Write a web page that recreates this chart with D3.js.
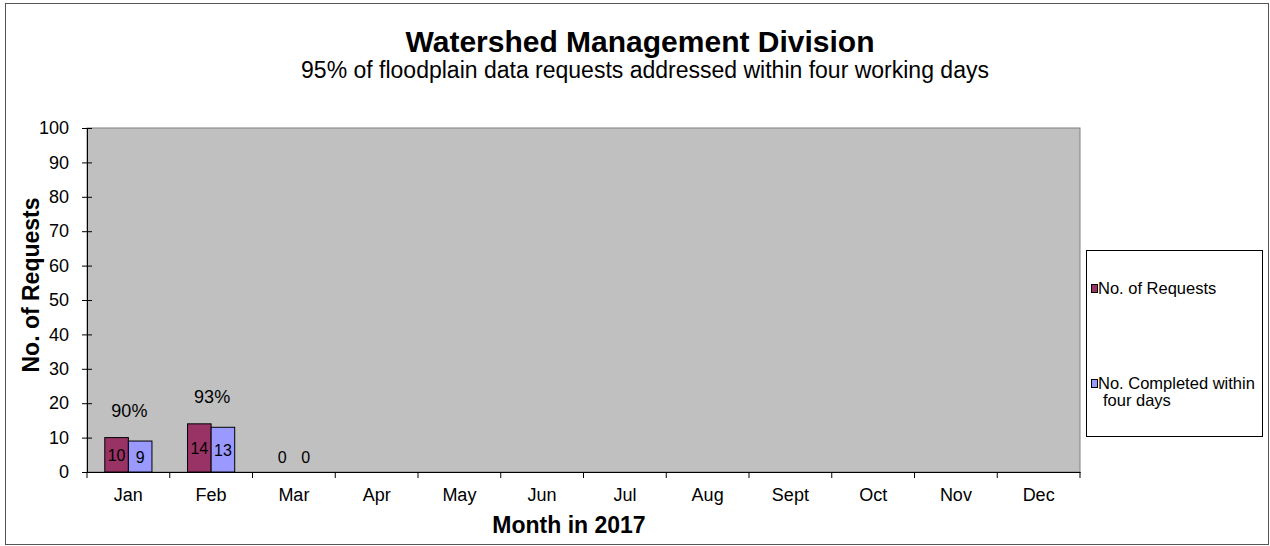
<!DOCTYPE html>
<html>
<head>
<meta charset="utf-8">
<script src="https://cdn.jsdelivr.net/npm/d3@7"></script>
<style>
  body { margin: 0; background: #fff; }
  text { font-family: "Liberation Sans", Arial, sans-serif; }
</style>
</head>
<body>
<script>
var w = 1270;
var h = 546;

var months = ["Jan", "Feb", "Mar", "Apr", "May", "Jun", "Jul", "Aug", "Sept", "Oct", "Nov", "Dec"];
var requests = [10, 14, 0, null, null, null, null, null, null, null, null, null];
var completed = [9, 13, 0, null, null, null, null, null, null, null, null, null];
var percentLabels = ["90%", "93%", null, null, null, null, null, null, null, null, null, null];
var yTicks = [0, 10, 20, 30, 40, 50, 60, 70, 80, 90, 100];
var seriesNames = ["No. of Requests", "No. Completed within four days"];
var seriesColors = ["#993366", "#9999FF"];

var plot = {left: 87, top: 128, right: 1080, bottom: 472};

var svg = d3.select("body")
    .append("svg")
    .attr("width", w)
    .attr("height", h);

// outer frame
svg.append("rect")
    .attr("x", 5.5)
    .attr("y", 3.5)
    .attr("width", 1263)
    .attr("height", 541)
    .attr("fill", "#fff")
    .attr("stroke", "#555")
    .attr("stroke-width", 1);

// titles
svg.append("text")
    .text("Watershed Management Division")
    .attr("x", 640)
    .attr("y", 52)
    .attr("text-anchor", "middle")
    .attr("font-size", 30)
    .attr("font-weight", "bold")
    .attr("fill", "#000");

svg.append("text")
    .text("95% of floodplain data requests addressed within four working days")
    .attr("x", 645)
    .attr("y", 78)
    .attr("text-anchor", "middle")
    .attr("font-size", 23)
    .attr("fill", "#000");

var x = d3.scaleBand()
    .domain(months)
    .range([plot.left, plot.right]);

var y = d3.scaleLinear()
    .domain([0, 100])
    .range([plot.bottom, plot.top]);

// plot background
svg.append("rect")
    .attr("x", plot.left)
    .attr("y", plot.top)
    .attr("width", plot.right - plot.left)
    .attr("height", plot.bottom - plot.top)
    .attr("fill", "#C0C0C0")
    .attr("stroke", "#808080")
    .attr("stroke-width", 1);

// bars
var barW = x.bandwidth() * 0.285;
var series = [requests, completed];
series.forEach(function (vals, s) {
    var g = svg.append("g");
    var data = months.map(function (m, i) { return {m: m, v: vals[i]}; })
        .filter(function (d) { return d.v !== null; });
    g.selectAll("rect")
        .data(data.filter(function (d) { return d.v > 0; }))
        .enter().append("rect")
        .attr("x", function (d) { return x(d.m) + x.bandwidth() / 2 + (s - 1) * barW; })
        .attr("y", function (d) { return y(d.v); })
        .attr("width", barW)
        .attr("height", function (d) { return y(0) - y(d.v); })
        .attr("fill", seriesColors[s])
        .attr("stroke", "#000")
        .attr("stroke-width", 1);
    g.selectAll("text")
        .data(data)
        .enter().append("text")
        .text(function (d) { return d.v; })
        .attr("x", function (d) { return x(d.m) + x.bandwidth() / 2 + (s - 0.5) * barW; })
        .attr("y", function (d) { return Math.min((y(d.v) + y(0)) / 2, y(0) - 15) + 6; })
        .attr("text-anchor", "middle")
        .attr("font-size", 16)
        .attr("fill", "#000");
});

// percent labels
svg.append("g").selectAll("text")
    .data(months.map(function (m, i) { return {m: m, t: percentLabels[i], v: requests[i]}; })
        .filter(function (d) { return d.t; }))
    .enter().append("text")
    .text(function (d) { return d.t; })
    .attr("x", function (d) { return x(d.m) + x.bandwidth() / 2 + 1; })
    .attr("y", function (d) { return y(d.v) - 21; })
    .attr("text-anchor", "middle")
    .attr("font-size", 18)
    .attr("fill", "#000");

// axes
var yAxis = svg.append("g")
    .attr("transform", "translate(" + plot.left + ",0)")
    .call(d3.axisLeft(y).tickValues(yTicks).tickSize(5).tickSizeOuter(0));
yAxis.selectAll("line").attr("x2", -5).attr("x1", 5).attr("stroke", "#000");
yAxis.select(".domain").attr("stroke", "#000");
yAxis.selectAll("text").attr("font-size", 18).attr("font-family", "Liberation Sans, Arial, sans-serif").attr("fill", "#000").attr("x", -18);

var xAxis = svg.append("g")
    .attr("transform", "translate(0," + plot.bottom + ")")
    .call(d3.axisBottom(x).tickSize(0).tickSizeOuter(0));
xAxis.select(".domain").attr("stroke", "#000");
xAxis.selectAll("text").attr("font-size", 18).attr("font-family", "Liberation Sans, Arial, sans-serif").attr("fill", "#000").attr("y", 0).attr("dy", 29);
// category boundary ticks
svg.append("g").selectAll("line")
    .data(months.concat(["end"]))
    .enter().append("line")
    .attr("x1", function (d, i) { return plot.left + i * x.bandwidth(); })
    .attr("x2", function (d, i) { return plot.left + i * x.bandwidth(); })
    .attr("y1", plot.bottom)
    .attr("y2", plot.bottom + 6)
    .attr("stroke", "#000");

// axis titles
svg.append("text")
    .text("No. of Requests")
    .attr("transform", "translate(39,285) rotate(-90)")
    .attr("text-anchor", "middle")
    .attr("font-size", 23)
    .attr("font-weight", "bold")
    .attr("fill", "#000");

svg.append("text")
    .text("Month in 2017")
    .attr("x", 569)
    .attr("y", 533)
    .attr("text-anchor", "middle")
    .attr("font-size", 23)
    .attr("font-weight", "bold")
    .attr("fill", "#000");

// legend
svg.append("rect")
    .attr("x", 1086.5)
    .attr("y", 250.5)
    .attr("width", 176)
    .attr("height", 186)
    .attr("fill", "#fff")
    .attr("stroke", "#000");

var legendY = [288, 383];
var legend = svg.append("g");
seriesNames.forEach(function (name, i) {
    legend.append("rect")
        .attr("x", 1091.5)
        .attr("y", legendY[i] - 3.5)
        .attr("width", 6)
        .attr("height", 8)
        .attr("fill", seriesColors[i])
        .attr("stroke", "#000");
    var t = legend.append("text")
        .attr("x", 1098)
        .attr("y", legendY[i] + 5.5)
        .attr("font-size", 16.5)
        .attr("fill", "#000");
    if (i === 1) {
        t.append("tspan").text("No. Completed within");
        t.append("tspan").attr("x", 1103).attr("dy", 17).text("four days");
    } else {
        t.text(name);
    }
});
</script>
</body>
</html>
